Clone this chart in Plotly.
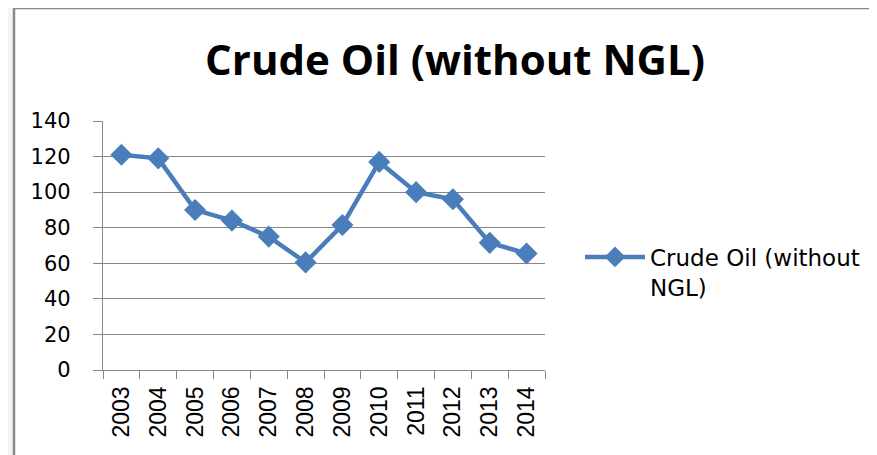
import plotly.graph_objects as go

years = ["2003", "2004", "2005", "2006", "2007", "2008", "2009", "2010", "2011", "2012", "2013", "2014"]
crude_oil = [121, 119, 90, 84, 75, 60.5, 81.5, 117, 100, 96, 71.5, 65.5]
series_name = "Crude Oil (without<br>NGL)"
y_ticks = [0, 20, 40, 60, 80, 100, 120, 140]

# page body adds 8px offset; work in screen pixels and convert
OFF = 8
W, H = 877 - OFF, 455 - OFF
L, T = 103 - OFF, 121 - OFF
pw, ph = 442, 249
R, B = W - L - pw, H - T - ph

def px_x(sx):
    return (sx - OFF - L) / pw

def px_y(sy):
    return (T + ph - (sy - OFF)) / ph

fig = go.Figure()
fig.add_trace(go.Scatter(
    x=years, y=crude_oil, name=series_name, mode="lines+markers",
    line=dict(color="#4a7ebb", width=4.5),
    marker=dict(symbol="diamond", size=17, color="#4a7ebb"),
))

fig.update_layout(
    width=W, height=H,
    margin=dict(l=L, r=R, t=T, b=B, autoexpand=False),
    paper_bgcolor="#f4f4f4",
    plot_bgcolor="white",
    title=dict(text="<b>Crude Oil (without NGL)</b>", x=(455 - OFF) / W, xanchor="center",
               y=1 - (60 - OFF) / H, yanchor="middle",
               font=dict(family="Open Sans", size=42, color="black")),
    showlegend=True,
    legend=dict(x=px_x(580), xanchor="left", y=px_y(272), yanchor="middle", valign="top",
                font=dict(family="DejaVu Sans", size=23, color="black"),
                bgcolor="rgba(0,0,0,0)", itemwidth=60),
    xaxis=dict(type="category", range=[-0.5, 11.5], tickangle=-90,
               showline=True, linecolor="#868686", linewidth=1.3,
               ticks="outside", ticklen=8, tickcolor="#868686", tickson="boundaries",
               showgrid=False, ticklabelstandoff=6,
               tickfont=dict(family="Liberation Sans", size=23, color="black")),
    yaxis=dict(range=[0, 140], tickvals=y_ticks, showline=True, linecolor="#868686", linewidth=1.3,
               ticks="outside", ticklen=9, tickcolor="#868686",
               showgrid=True, gridcolor="#868686", gridwidth=1.2, zeroline=False,
               ticklabelstandoff=18,
               tickfont=dict(family="DejaVu Sans", size=21, color="black")),
    shapes=[dict(type="rect", xref="paper", yref="paper", layer="below",
                 x0=px_x(14), x1=px_x(890), y0=px_y(8), y1=px_y(470),
                 fillcolor="white", line=dict(color="#8a8a8a", width=2.5))],
)

fig.write_html("out.html")
